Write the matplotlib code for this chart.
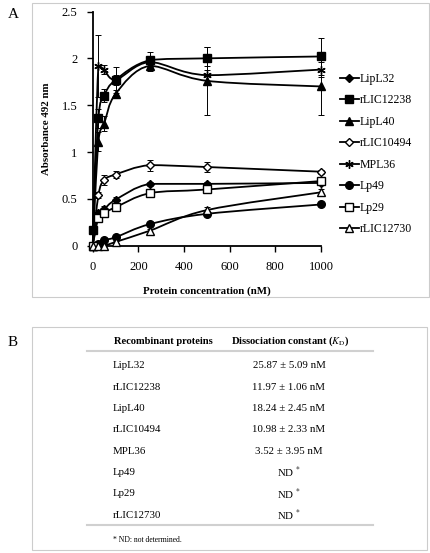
import numpy as np
import matplotlib
matplotlib.use("Agg")
from matplotlib import pyplot as plt
from matplotlib.path import Path
from matplotlib.patches import PathPatch, Rectangle
from matplotlib.lines import Line2D

plt.rcParams['font.family'] = ['Liberation Serif', 'DejaVu Serif']
plt.rcParams['mathtext.fontset'] = 'stix'

conc = [0, 25, 50, 100, 250, 500, 1000]
names = ["LipL32", "rLIC12238", "LipL40", "rLIC10494", "MPL36", "Lp49", "Lp29", "rLIC12730"]

lipl32 = [0, 0.35, 0.39, 0.49, 0.66, 0.66, 0.67]
rlic12238 = [0.17, 1.36, 1.60, 1.77, 1.98, 2.00, 2.02]
lipl40 = [0, 1.11, 1.30, 1.62, 1.92, 1.76, 1.70]
rlic10494 = [0, 0.54, 0.70, 0.76, 0.86, 0.84, 0.79]
mpl36 = [0, 1.92, 1.88, 1.77, 1.96, 1.82, 1.88]
lp49 = [0, 0.02, 0.06, 0.09, 0.23, 0.34, 0.44]
lp29 = [0, 0.30, 0.35, 0.41, 0.56, 0.60, 0.69]
rlic12730 = [0, 0.0, 0.0, 0.04, 0.16, 0.38, 0.57]

err_lipl32 = [0, 0.03, 0.03, 0.03, 0.02, 0.02, 0.02]
err_rlic12238 = [0, 0.10, 0.07, 0.14, 0.09, 0.12, 0.20]
err_lipl40 = [0, 0.10, 0.08, 0.04, 0.05, 0.36, 0.31]
err_rlic10494 = [0, 0.03, 0.05, 0.04, 0.06, 0.05, 0.02]
err_mpl36 = [0, 0.33, 0.05, 0.05, 0.05, 0.10, 0.08]
err_lp49 = [0, 0.01, 0.01, 0.02, 0.02, 0.02, 0.02]
err_lp29 = [0, 0.02, 0.02, 0.03, 0.02, 0.02, 0.03]
err_rlic12730 = [0, 0.0, 0.01, 0.01, 0.02, 0.03, 0.03]

series = [lipl32, rlic12238, lipl40, rlic10494, mpl36, lp49, lp29, rlic12730]
errors = [err_lipl32, err_rlic12238, err_lipl40, err_rlic10494, err_mpl36, err_lp49, err_lp29, err_rlic12730]
markers = ['D', 's', '^', 'D', (6, 2, 0), 'o', 's', '^']
filled = [True, True, True, False, True, True, False, False]
msizes = [4.5, 5.5, 5.5, 4.5, 6, 5.5, 5.5, 5.5]

kd_values = ["25.87 ± 5.09 nM", "11.97 ± 1.06 nM", "18.24 ± 2.45 nM", "10.98 ± 2.33 nM",
             "3.52 ± 3.95 nM", "ND $^{*}$", "ND $^{*}$", "ND $^{*}$"]


def smooth_path(x, y):
    # smoothed line like excel: catmull-rom as bezier, control y kept inside each segment
    pts = np.column_stack([x, y]).astype(float)
    ext = np.vstack([pts[0], pts, pts[-1]])
    verts = [pts[0]]
    codes = [Path.MOVETO]
    for i in range(1, len(ext) - 2):
        p0, p1, p2, p3 = ext[i - 1], ext[i], ext[i + 1], ext[i + 2]
        c1 = p1 + (p2 - p0) / 6.0
        c2 = p2 - (p3 - p1) / 6.0
        lo, hi = min(p1[1], p2[1]), max(p1[1], p2[1])
        c1[1] = np.clip(c1[1], lo, hi)
        c2[1] = np.clip(c2[1], lo, hi)
        verts += [c1, c2, p2]
        codes += [Path.CURVE4] * 3
    return Path(verts, codes)


fig = plt.figure(figsize=(4.30, 5.53), dpi=100)

# panel frames
fig.patches.append(Rectangle((32 / 430, 1 - 297 / 553), 397 / 430, 294 / 553, transform=fig.transFigure,
                             fill=False, ec='#cccccc', lw=0.8))
fig.patches.append(Rectangle((32 / 430, 1 - 550 / 553), 395 / 430, 223 / 553, transform=fig.transFigure,
                             fill=False, ec='#cccccc', lw=0.8))
fig.text(8 / 430, 1 - 15 / 553, "A", fontsize=11, va='center')
fig.text(8 / 430, 1 - 343 / 553, "B", fontsize=11, va='center')

ax = fig.add_axes([92.7 / 430, 1 - 245.7 / 553, 228.3 / 430, 234.2 / 553])
handles = []
for name, ys, es, m, f, ms in zip(names, series, errors, markers, filled, msizes):
    ax.add_patch(PathPatch(smooth_path(conc, ys), fill=False, ec='black', lw=1.3, clip_on=False))
    ax.errorbar(conc, ys, yerr=es, fmt='none', ecolor='black', elinewidth=0.7, capsize=2.5,
                capthick=0.7, clip_on=False)
    fc = 'black' if f else 'white'
    ax.plot(conc, ys, ls='none', marker=m, ms=ms, mfc=fc, mec='black', mew=1.0, clip_on=False, zorder=5)
    handles.append(Line2D([], [], color='black', lw=1.3, marker=m, ms=ms, mfc=fc, mec='black', mew=1.0))

ax.set_xlim(0, 1000)
ax.set_ylim(0, 2.5)
ax.set_xticks([0, 200, 400, 600, 800, 1000])
ax.set_yticks([0, 0.5, 1, 1.5, 2, 2.5])
ax.set_yticklabels(["0", "0.5", "1", "1.5", "2", "2.5"])
for s in ['top', 'right']:
    ax.spines[s].set_visible(False)
for s in ['left', 'bottom']:
    ax.spines[s].set_linewidth(1.3)
ax.tick_params(direction='out', length=4, width=1.0, labelsize=9, pad=7)
ax.set_xlabel("Protein concentration (nM)", fontsize=7.8, fontweight='bold', labelpad=10)
ax.set_ylabel("Absorbance 492 nm", fontsize=7.8, fontweight='bold', labelpad=8)

fig.legend(handles, names, loc='upper left', bbox_to_anchor=(340 / 430, 1 - 73 / 553), frameon=False,
           fontsize=8.5, handlelength=1.6, handletextpad=0.1, labelspacing=0.8, borderpad=0, borderaxespad=0)

# panel B table
fig.text(163 / 430, 1 - 341.5 / 553, "Recombinant proteins", fontsize=7.6, fontweight='bold',
         ha='center', va='center')
fig.text(290 / 430, 1 - 341.5 / 553, r"Dissociation constant ($\mathit{K}_{\mathrm{D}}$)", fontsize=7.6,
         fontweight='bold', ha='center', va='center')
fig.add_artist(Line2D([87 / 430, 373 / 430], [1 - 351 / 553, 1 - 351 / 553], color='#d0d0d0', lw=1.5))
fig.add_artist(Line2D([87 / 430, 373 / 430], [1 - 524.5 / 553, 1 - 524.5 / 553], color='#d0d0d0', lw=1.5))
row_y = [366, 387.3, 408.7, 430, 451.3, 472.7, 494, 515.3]
for name, kd, yy in zip(names, kd_values, row_y):
    fig.text(112.5 / 430, 1 - yy / 553, name, fontsize=7.8, ha='left', va='center')
    fig.text(289 / 430, 1 - yy / 553, kd, fontsize=7.8, ha='center', va='center')
fig.text(112.5 / 430, 1 - 540 / 553, "* ND: not determined.", fontsize=5.5, ha='left', va='center')

fig.savefig("out.png", dpi=100)
